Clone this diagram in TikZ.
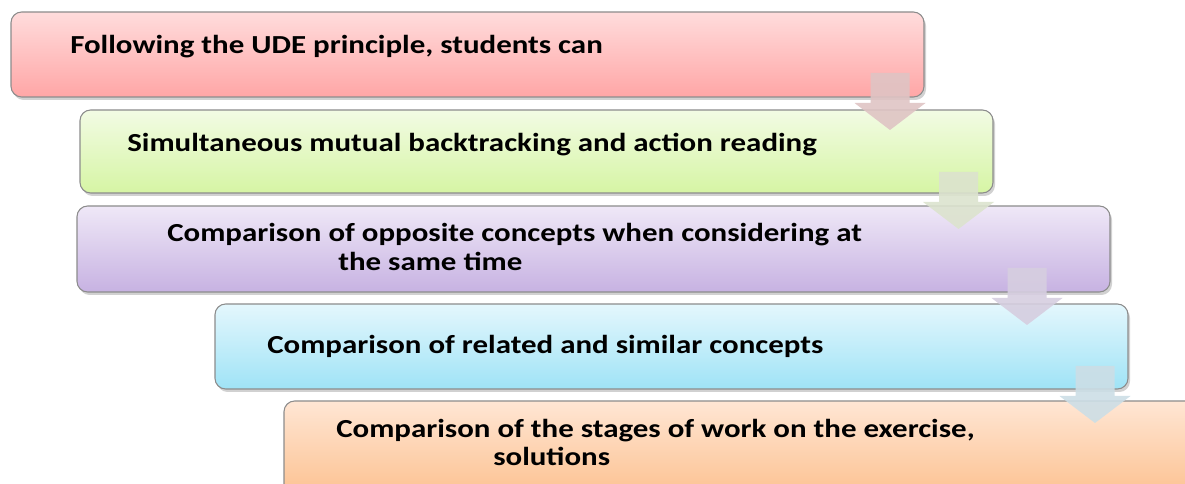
\documentclass[tikz,border=0pt]{standalone}
\usepackage{fontspec}
\setmainfont{Carlito}
\newfontfamily\lblfont{Carlito}[FakeStretch=1.19]
\usetikzlibrary{calc}
\definecolor{rT}{HTML}{FFDCDC}\definecolor{rB}{HTML}{FFA6A6}
\definecolor{gT}{HTML}{F2FBE4}\definecolor{gB}{HTML}{D6F5A4}
\definecolor{pT}{HTML}{EFE8F7}\definecolor{pB}{HTML}{C7B2E2}
\definecolor{bT}{HTML}{E4F7FD}\definecolor{bB}{HTML}{9FE3F6}
\definecolor{oT}{HTML}{FFE6D4}\definecolor{oB}{HTML}{FCC08E}
\definecolor{a1}{HTML}{DFC4C4}\definecolor{a2}{HTML}{DCE3CE}
\definecolor{a3}{HTML}{D6CEE0}\definecolor{a4}{HTML}{CCDEE6}
\definecolor{edge}{HTML}{8C8C8C}
\tikzset{
  box/.style={rounded corners=8, draw=edge, line width=0.8pt},
  shadowbox/.style={rounded corners=8, fill=black, fill opacity=0.18},
  lbl/.style={font=\lblfont\fontsize{19.5}{22}\selectfont\bfseries, inner sep=0pt, anchor=base west, align=left},
  blk/.style={fill opacity=0.9, draw=none}
}
\newcommand\stagebox[6]{%
  \fill[shadowbox] (#1+2,#2+3) rectangle (#3+2,#4+3);
  \shade[box, top color=#5, bottom color=#6] (#1,#2) rectangle (#3,#4);
}
\newcommand\blockdown[4]{% x-left of shaft, top y, colour, name
  \fill[blk, fill=#3] (#1,#2) -- (#1+39,#2) -- (#1+39,#2+30) -- (#1+55,#2+30)
     -- (#1+19.5,#2+57) -- (#1-16,#2+30) -- (#1,#2+30) -- cycle;
  \coordinate (#4) at (#1+19.5,#2+57);
}
\begin{document}
\begin{tikzpicture}[x=0.75pt,y=-0.75pt]
\useasboundingbox (0,0) rectangle (1185,484);
\clip (0,0) rectangle (1185,484);
\stagebox{11}{12}{924}{97}{rT}{rB}
\stagebox{80}{110}{993}{193}{gT}{gB}
\stagebox{77}{206}{1110}{292}{pT}{pB}
\stagebox{215}{304}{1128}{389}{bT}{bB}
\stagebox{284}{401}{1200}{500}{oT}{oB}
\node[lbl] (t1) at (70,54) {Following the UDE principle, students can};
\node[lbl] (t2) at (127,152) {Simultaneous mutual backtracking and action reading};
\node[lbl] (t3a) at (167,242) {Comparison of opposite concepts when considering at};
\node[lbl] (t3b) at (338,271) {the same time};
\node[lbl] (t4) at (267,354) {Comparison of related and similar concepts};
\node[lbl] (t5a) at (336,437) {Comparison of the stages of work on the exercise,};
\node[lbl] (t5b) at (493,465) {solutions};
\blockdown{870.5}{73}{a1}{tip1}
\blockdown{939}{172}{a2}{tip2}
\blockdown{1007.5}{268}{a3}{tip3}
\blockdown{1075.5}{366}{a4}{tip4}
\end{tikzpicture}
\end{document}
